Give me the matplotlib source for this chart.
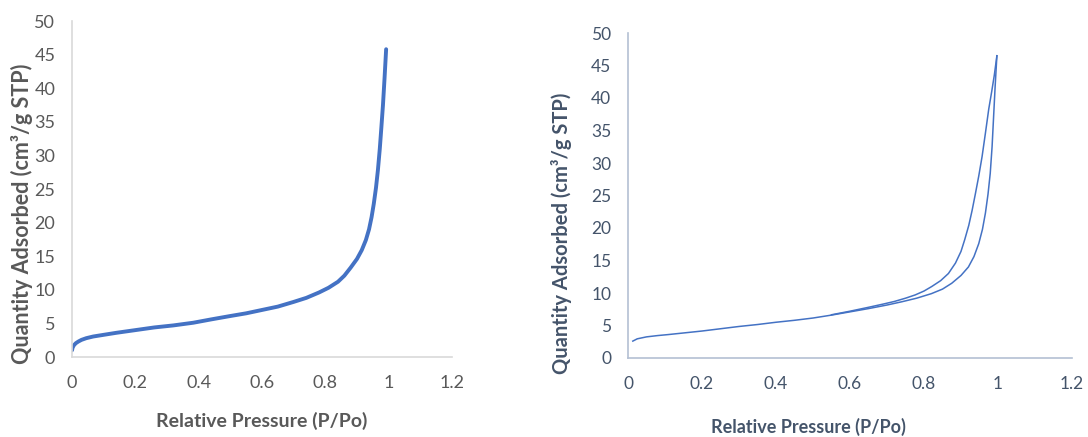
import numpy as np
import matplotlib
matplotlib.use("Agg")
import matplotlib.pyplot as plt

plt.rcParams["font.family"] = ["Lato", "DejaVu Sans"]

# Left isotherm (single thick curve)
left_p = [0.0, 0.002, 0.006, 0.012, 0.02, 0.03, 0.045, 0.067, 0.1, 0.14, 0.2,
          0.26, 0.32, 0.383, 0.44, 0.5, 0.55, 0.6, 0.65, 0.7, 0.74, 0.78,
          0.81, 0.84, 0.86, 0.88, 0.9, 0.915, 0.928, 0.938, 0.946, 0.953,
          0.96, 0.966, 0.972, 0.977, 0.982, 0.987, 0.992]
left_q = [1.0, 1.4, 1.75, 2.05, 2.3, 2.55, 2.8, 3.05, 3.3, 3.6, 4.0,
          4.4, 4.7, 5.1, 5.6, 6.1, 6.5, 7.0, 7.5, 8.2, 8.8, 9.6,
          10.3, 11.2, 12.1, 13.3, 14.6, 15.9, 17.4, 19.0, 20.8, 22.8,
          25.2, 27.8, 31.0, 34.2, 37.5, 41.5, 45.8]

# Right isotherm: adsorption and desorption branches
ads_p = [0.013, 0.025, 0.05, 0.08, 0.108, 0.15, 0.2, 0.25, 0.3, 0.35, 0.4,
         0.45, 0.5, 0.55, 0.6, 0.65, 0.7, 0.74, 0.78, 0.82, 0.85, 0.875,
         0.9, 0.92, 0.935, 0.948, 0.958, 0.966, 0.973, 0.979, 0.984, 0.988,
         0.992, 0.997]
ads_q = [2.6, 2.95, 3.25, 3.45, 3.6, 3.85, 4.15, 4.5, 4.85, 5.15, 5.5,
         5.8, 6.15, 6.6, 7.1, 7.6, 8.15, 8.65, 9.2, 9.9, 10.6, 11.5,
         12.7, 14.0, 15.6, 17.6, 19.8, 22.3, 25.2, 28.4, 32.5, 37.0,
         41.5, 46.5]
des_p = [0.997, 0.99, 0.983, 0.975, 0.966, 0.957, 0.948, 0.939, 0.93, 0.921,
         0.91, 0.9, 0.885, 0.866, 0.845, 0.821, 0.8, 0.776, 0.75, 0.72,
         0.69, 0.65, 0.6, 0.55]
des_q = [46.5, 43.5, 41.0, 38.3, 34.6, 31.0, 28.0, 25.3, 22.7, 20.4,
         18.2, 16.4, 14.6, 13.0, 11.9, 11.0, 10.3, 9.7, 9.2, 8.7,
         8.3, 7.8, 7.2, 6.65]

x_ticks = [0, 0.2, 0.4, 0.6, 0.8, 1, 1.2]
x_labels = ["0", "0.2", "0.4", "0.6", "0.8", "1", "1.2"]
y_ticks = list(range(0, 51, 5))

line_color = "#4472C4"

fig = plt.figure(figsize=(10.88, 4.37), dpi=100)
ax1 = fig.add_axes([72 / 1088, 1 - 357 / 437, 380 / 1088, 336 / 437])
ax2 = fig.add_axes([628 / 1088, 1 - 358 / 437, 444 / 1088, 325 / 437])


def style(ax, axis_col, text_col, size):
    ax.set_xlim(0, 1.2)
    ax.set_ylim(0, 50)
    ax.set_xticks(x_ticks)
    ax.set_xticklabels(x_labels)
    ax.set_yticks(y_ticks)
    for s in ["top", "right"]:
        ax.spines[s].set_visible(False)
    for s in ["left", "bottom"]:
        ax.spines[s].set_color(axis_col)
        ax.spines[s].set_linewidth(1.2)
    ax.tick_params(length=0, labelsize=size, colors=text_col)
    ax.tick_params(axis="x", pad=13)
    ax.tick_params(axis="y", pad=12)


ax1.plot(left_p, left_q, color=line_color, lw=2.8, solid_capstyle="round",
         solid_joinstyle="round")
style(ax1, "#D9D9D9", "#595959", 13)

ax2.plot(ads_p, ads_q, color=line_color, lw=1.1)
ax2.plot(des_p, des_q, color=line_color, lw=1.1)
style(ax2, "#B4C0D3", "#44546A", 12.5)

fig.text(22 / 1088, 1 - 214 / 437, "Quantity Adsorbed (cm³/g STP)", rotation=90,
         ha="center", va="center", color="#595959", fontsize=15.5, fontweight="bold")
fig.text(262 / 1088, 1 - 421 / 437, "Relative Pressure (P/Po)",
         ha="center", va="center", color="#595959", fontsize=14, fontweight="bold")
fig.text(562 / 1088, 1 - 233 / 437, "Quantity Adsorbed (cm³/g STP)", rotation=90,
         ha="center", va="center", color="#44546A", fontsize=14.5, fontweight="bold")
fig.text(808 / 1088, 1 - 427 / 437, "Relative Pressure (P/Po)",
         ha="center", va="center", color="#44546A", fontsize=13, fontweight="bold")

fig.savefig("out.png", dpi=100, facecolor="white")
